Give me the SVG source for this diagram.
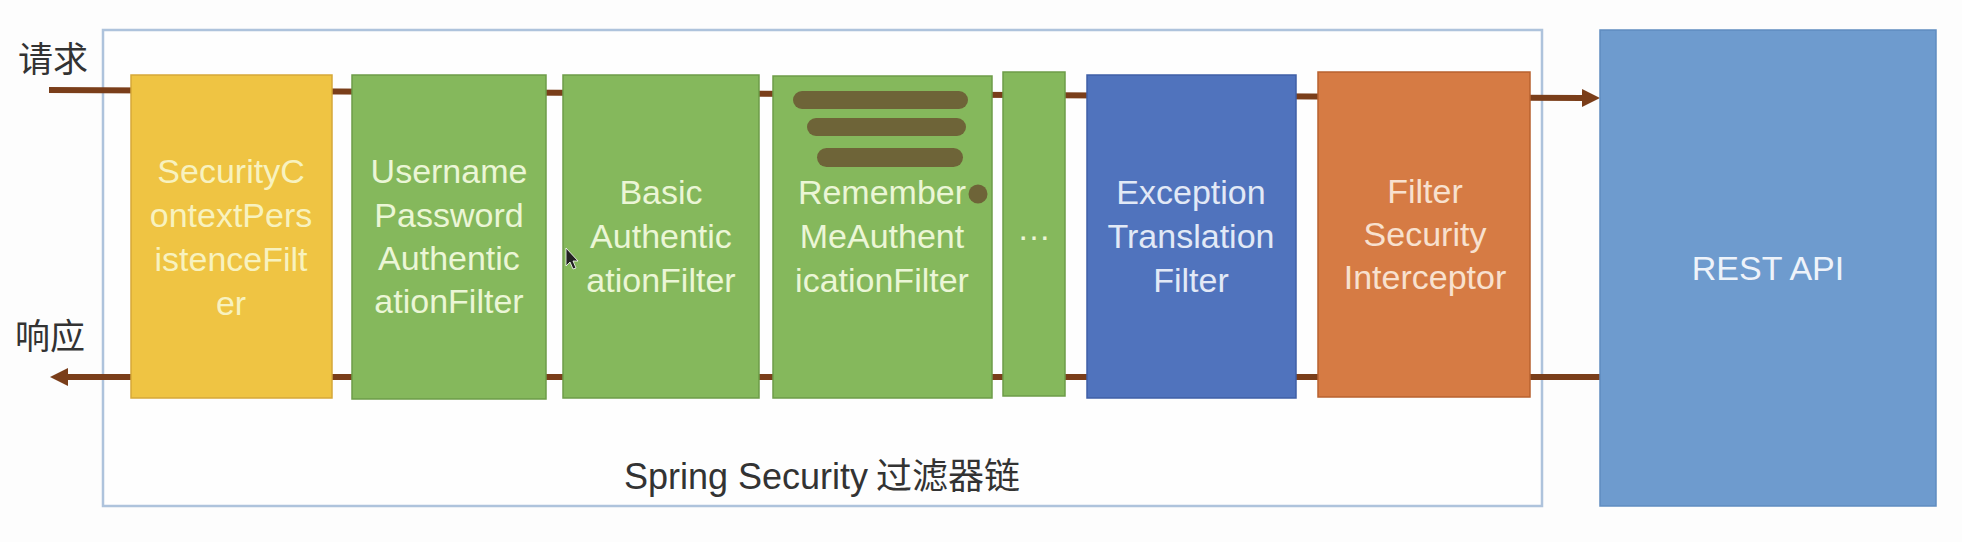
<svg xmlns="http://www.w3.org/2000/svg" width="1962" height="542" viewBox="0 0 1962 542">
<style>
.box{stroke-width:1.5}
.t{font-family:"Liberation Sans","Noto Sans CJK SC",sans-serif;font-size:34px;text-anchor:middle}
.cjk{font-family:"Noto Sans CJK SC","Liberation Sans",sans-serif;fill:#333333}
.flow{stroke:#7a3e1a;stroke-width:6;fill:none}
.mark{fill:#6e6438}
</style>
<defs>
<marker id="ah" markerUnits="userSpaceOnUse" markerWidth="18" markerHeight="18" refX="0" refY="9" orient="auto">
<path d="M0,0 L18,9 L0,18 Z" fill="#7a3e1a"/>
</marker>
</defs>
<rect x="0" y="0" width="1962" height="542" fill="#fdfdfd"/>
<g id="container">
<rect x="103" y="30" width="1439" height="476" fill="#fefefe" stroke="#aec3dc" stroke-width="2.5"/>
<text class="cjk" x="822" y="489" font-size="36" text-anchor="middle"><tspan font-family="Liberation Sans, sans-serif">Spring Security</tspan> 过滤器链</text>
</g>
<g id="labels">
<text class="cjk" x="18" y="72" font-size="35">请求</text>
<text class="cjk" x="15" y="349" font-size="35">响应</text>
</g>
<g id="connectors">
<line class="flow" x1="49" y1="90" x2="1582" y2="98" marker-end="url(#ah)"/>
<line class="flow" x1="1600" y1="377" x2="68" y2="377" marker-end="url(#ah)"/>
</g>
<g id="securityContextPersistenceFilter">
<rect class="box" x="131" y="75" width="201" height="323" fill="#efc443" stroke="#d6a838"/>
<text class="t" fill="#f8f2bf"><tspan x="231" y="183">SecurityC</tspan><tspan x="231" y="227">ontextPers</tspan><tspan x="231" y="271">istenceFilt</tspan><tspan x="231" y="315">er</tspan></text>
</g>
<g id="usernamePasswordAuthenticationFilter">
<rect class="box" x="352" y="75" width="194" height="324" fill="#85b85c" stroke="#6d9c48"/>
<text class="t" fill="#ebf6d6"><tspan x="449" y="183">Username</tspan><tspan x="449" y="227">Password</tspan><tspan x="449" y="270">Authentic</tspan><tspan x="449" y="313">ationFilter</tspan></text>
</g>
<g id="basicAuthenticationFilter">
<rect class="box" x="563" y="75" width="196" height="323" fill="#85b85c" stroke="#6d9c48"/>
<text class="t" fill="#ebf6d6"><tspan x="661" y="204">Basic</tspan><tspan x="661" y="248">Authentic</tspan><tspan x="661" y="292">ationFilter</tspan></text>
</g>
<g id="rememberMeAuthenticationFilter">
<rect class="box" x="773" y="76" width="219" height="322" fill="#85b85c" stroke="#6d9c48"/>
<text class="t" fill="#ebf6d6"><tspan x="882" y="204">Remember</tspan><tspan x="882" y="248">MeAuthent</tspan><tspan x="882" y="292">icationFilter</tspan></text>
<rect class="mark" x="793" y="91" width="175" height="18" rx="9"/>
<rect class="mark" x="807" y="118" width="159" height="18" rx="9"/>
<rect class="mark" x="817" y="148" width="146" height="19" rx="9.5"/>
<circle class="mark" cx="978" cy="194" r="9.5"/>
</g>
<g id="moreFilters">
<rect class="box" x="1003" y="72" width="62" height="324" fill="#85b85c" stroke="#6d9c48"/>
<text class="t" x="1034" y="240" font-size="22" fill="#ebf6d6">…</text>
</g>
<g id="exceptionTranslationFilter">
<rect class="box" x="1087" y="75" width="209" height="323" fill="#5073bd" stroke="#3f5fa6"/>
<text class="t" fill="#e2e9f6"><tspan x="1191" y="204">Exception</tspan><tspan x="1191" y="248">Translation</tspan><tspan x="1191" y="292">Filter</tspan></text>
</g>
<g id="filterSecurityInterceptor">
<rect class="box" x="1318" y="72" width="212" height="325" fill="#d67b44" stroke="#b8622f"/>
<text class="t" fill="#f8e1cf"><tspan x="1425" y="203">Filter</tspan><tspan x="1425" y="246">Security</tspan><tspan x="1425" y="289">Interceptor</tspan></text>
</g>
<g id="restApi">
<rect class="box" x="1600" y="30" width="336" height="476" fill="#6e9bce" stroke="#5f8cc0"/>
<text class="t" x="1768" y="280" font-size="31" fill="#eef3fa">REST API</text>
</g>
<g id="cursor">
<path d="M566,248 L566,266 L570,262 L573,269 L576,268 L573,261 L578,261 Z" fill="#222222" stroke="#ffffff" stroke-width="0.8"/>
</g>
</svg>
